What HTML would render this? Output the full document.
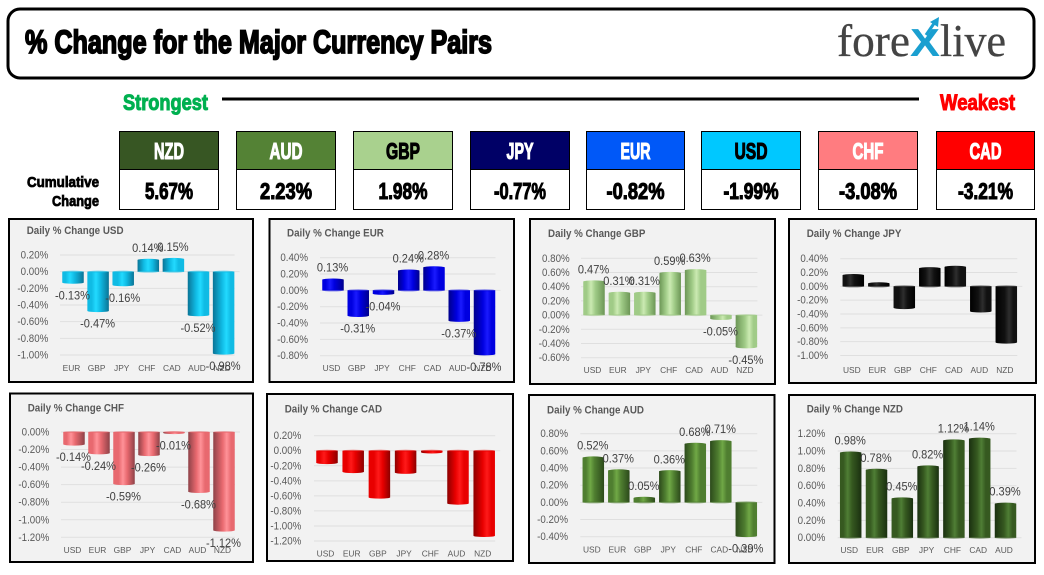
<!DOCTYPE html>
<html lang="en">
<head>
<meta charset="utf-8">
<title>% Change for the Major Currency Pairs</title>
<style>
html,body{margin:0;padding:0;background:#fff;width:1044px;height:575px;overflow:hidden}
svg{display:block}
text{font-family:"Liberation Sans",sans-serif}
.hv{font-weight:bold;stroke-width:1.1px;paint-order:stroke;text-anchor:middle}
</style>
</head>
<body>
<svg id="dashboard" width="1044" height="575" viewBox="0 0 1044 575" xmlns="http://www.w3.org/2000/svg">
  <defs id="gradients"></defs>
  <g>
    <rect x="8" y="9" width="1026" height="69" rx="12" ry="12" fill="#fff" stroke="#000" stroke-width="3"/>
    <text x="25" y="53" font-size="32" font-weight="bold" fill="#000" stroke="#000" stroke-width="1.7" textLength="467" lengthAdjust="spacingAndGlyphs">% Change for the Major Currency Pairs</text>
    <g>
      <text x="837" y="56" font-size="46" fill="#444" stroke="#444" stroke-width=".3" style="font-family:'Liberation Serif',serif" textLength="73" lengthAdjust="spacingAndGlyphs">fore</text>
      <text x="910" y="56" font-size="39" font-weight="bold" fill="#1a9fd0" textLength="30" lengthAdjust="spacingAndGlyphs">X</text>
      <text x="940" y="56" font-size="46" fill="#444" stroke="#444" stroke-width=".3" style="font-family:'Liberation Serif',serif" textLength="66" lengthAdjust="spacingAndGlyphs">live</text>
      <line x1="926" y1="35" x2="935" y2="22" stroke="#1a9fd0" stroke-width="3"/>
      <polygon points="939,17 938,27 930,22" fill="#1a9fd0"/>
    </g>
  </g>
  <g>
    <text x="123" y="110" font-size="22" font-weight="bold" fill="#00b050" stroke="#00b050" stroke-width="1" textLength="85" lengthAdjust="spacingAndGlyphs">Strongest</text>
    <rect x="222" y="97.5" width="697" height="3" fill="#000"/>
    <text x="940" y="110" font-size="22" font-weight="bold" fill="#f00" stroke="#f00" stroke-width="1" textLength="75" lengthAdjust="spacingAndGlyphs">Weakest</text>
  </g>
  <g>
    <text x="27" y="187" font-size="15" font-weight="bold" fill="#000" stroke="#000" stroke-width=".8" textLength="72" lengthAdjust="spacingAndGlyphs">Cumulative</text>
    <text x="52" y="206" font-size="15" font-weight="bold" fill="#000" stroke="#000" stroke-width=".8" textLength="47" lengthAdjust="spacingAndGlyphs">Change</text>
  </g>
  <g id="strength-table"></g>
  <g id="panels"></g>
</svg>
<script>
// Cumulative strength table
const tableCurrencies = ['NZD', 'AUD', 'GBP', 'JPY', 'EUR', 'USD', 'CHF', 'CAD'];
const tableValues = ['5.67%', '2.23%', '1.98%', '-0.77%', '-0.82%', '-1.99%', '-3.08%', '-3.21%'];

// Daily % change: categories, values, axis ticks
const usdCategories = ['EUR', 'GBP', 'JPY', 'CHF', 'CAD', 'AUD', 'NZD'];
const usdValues = [-0.13, -0.47, -0.16, 0.14, 0.15, -0.52, -0.98];
const usdTicks = [0.2, 0, -0.2, -0.4, -0.6, -0.8, -1];

const eurCategories = ['USD', 'GBP', 'JPY', 'CHF', 'CAD', 'AUD', 'NZD'];
const eurValues = [0.13, -0.31, -0.04, 0.24, 0.28, -0.37, -0.78];
const eurTicks = [0.4, 0.2, 0, -0.2, -0.4, -0.6, -0.8];

const gbpCategories = ['USD', 'EUR', 'JPY', 'CHF', 'CAD', 'AUD', 'NZD'];
const gbpValues = [0.47, 0.31, 0.31, 0.59, 0.63, -0.05, -0.45];
const gbpTicks = [0.8, 0.6, 0.4, 0.2, 0, -0.2, -0.4, -0.6];

const jpyCategories = ['USD', 'EUR', 'GBP', 'CHF', 'CAD', 'AUD', 'NZD'];
const jpyValues = [0.16, 0.04, -0.31, 0.26, 0.28, -0.36, -0.81];
const jpyTicks = [0.4, 0.2, 0, -0.2, -0.4, -0.6, -0.8, -1];

const chfCategories = ['USD', 'EUR', 'GBP', 'JPY', 'CAD', 'AUD', 'NZD'];
const chfValues = [-0.14, -0.24, -0.59, -0.26, -0.01, -0.68, -1.12];
const chfTicks = [0, -0.2, -0.4, -0.6, -0.8, -1, -1.2];

const cadCategories = ['USD', 'EUR', 'GBP', 'JPY', 'CHF', 'AUD', 'NZD'];
const cadValues = [-0.16, -0.28, -0.62, -0.29, -0.02, -0.7, -1.13];
const cadTicks = [0.2, 0, -0.2, -0.4, -0.6, -0.8, -1, -1.2];

const audCategories = ['USD', 'EUR', 'GBP', 'JPY', 'CHF', 'CAD', 'NZD'];
const audValues = [0.52, 0.37, 0.05, 0.36, 0.68, 0.71, -0.39];
const audTicks = [0.8, 0.6, 0.4, 0.2, 0, -0.2, -0.4];

const nzdCategories = ['USD', 'EUR', 'GBP', 'JPY', 'CHF', 'CAD', 'AUD'];
const nzdValues = [0.98, 0.78, 0.45, 0.82, 1.12, 1.14, 0.39];
const nzdTicks = [1.2, 1, 0.8, 0.6, 0.4, 0.2, 0];

const NS = 'http://www.w3.org/2000/svg';
function mk(parent, tag, attrs, txt) {
  const el = document.createElementNS(NS, tag);
  for (const k in attrs) el.setAttribute(k, attrs[k]);
  if (txt !== undefined) el.textContent = txt;
  parent.appendChild(el);
  return el;
}
// Taller, narrower glyphs: squeeze horizontally by a ratio of the natural width.
function squeeze(t, ratio) {
  t.setAttribute('textLength', (t.getComputedTextLength() * ratio).toFixed(2));
  t.setAttribute('lengthAdjust', 'spacingAndGlyphs');
}

function drawTable() {
  const root = document.getElementById('strength-table');
  const lefts = [119.5, 236.5, 353.5, 470.5, 586.5, 701.5, 818.5, 936.5];
  const rights = [218.5, 335.5, 452.5, 569.5, 684.5, 800.5, 917.5, 1034.5];
  const fills = ['#375623', '#548235', '#a9d18e', '#000066', '#0058f8', '#00c8ff', '#ff7c80', '#ff0000'];
  const inks = ['#fff', '#fff', '#000', '#fff', '#fff', '#000', '#fff', '#fff'];
  const nameW = [30, 33, 34, 27, 30, 33, 31, 32];
  const valW = [48, 52, 49, 52, 58, 55, 58, 55];
  tableCurrencies.forEach((c, i) => {
    const g = mk(root, 'g', {});
    
    
    const x = lefts[i], w = rights[i] - lefts[i], cx = x + w / 2;
    mk(g, 'rect', {x: x, y: 131.5, width: w, height: 78, fill: '#fff', stroke: '#000', 'stroke-width': 1});
    mk(g, 'rect', {x: x, y: 131.5, width: w, height: 38, fill: fills[i], stroke: '#000', 'stroke-width': 1});
    mk(g, 'text', {x: cx, y: 159, 'font-size': 23, fill: inks[i], stroke: inks[i], class: 'hv', textLength: nameW[i], lengthAdjust: 'spacingAndGlyphs'}, c);
    mk(g, 'text', {x: cx, y: 199, 'font-size': 23, fill: '#000', stroke: '#000', class: 'hv', textLength: valW[i], lengthAdjust: 'spacingAndGlyphs'}, tableValues[i]);
  });
}

function drawPanel(key, cats, vals, ticks, look, box) {
  const root = document.getElementById('panels');
  const defs = document.getElementById('gradients');

  const g = mk(root, 'g', {});
  
  

  const frame = mk(g, 'rect', {x: box.fx0 + 1, y: box.fy0 + 1, width: box.fx1 - box.fx0 - 2, height: box.fy1 - box.fy0 - 2, fill: '#f2f2f2', stroke: '#000', 'stroke-width': 2});
  
  

  const title = mk(g, 'text', {x: box.tx, y: box.ty + 4, 'font-size': 11, 'font-weight': 'bold', fill: '#595959'}, 'Daily % Change ' + key.toUpperCase());
  
  
  squeeze(title, 0.89);

  const tMax = Math.max.apply(null, ticks), tMin = Math.min.apply(null, ticks);
  const yPos = v => box.top + (tMax - v) / (tMax - tMin) * (box.bot - box.top);
  const xPos = i => box.x0 + i * box.step;
  const xL = xPos(0) - 13, xR = xPos(cats.length - 1) + 11;

  ticks.forEach(t => {
    const y = yPos(t);
    const line = mk(g, 'line', {x1: xL, x2: t === 0 ? xR + 5 : xR, y1: y, y2: y, stroke: '#dfdfdf', 'stroke-width': 1});
    
    
    const label = mk(g, 'text', {x: box.tr, y: y + 3.5, 'font-size': 10.6, fill: '#595959', 'text-anchor': 'end'}, t.toFixed(2) + '%');
    
    
    squeeze(label, 0.92);
  });

  const bw = 21.5;
  vals.forEach((v, i) => {
    const cx = xPos(i), y0 = yPos(0), y1 = yPos(v);
    const id = 'grad-' + key + '-' + i;
    const hi = 0.36 + i * 0.045;
    const grad = mk(defs, 'linearGradient', {id: id, x1: 0, x2: 1, y1: 0, y2: 0});
    mk(grad, 'stop', {offset: '0', 'stop-color': i > 2 ? look.dark : look.mid});
    mk(grad, 'stop', {offset: (hi - 0.2).toFixed(2), 'stop-color': look.mid});
    mk(grad, 'stop', {offset: hi.toFixed(2), 'stop-color': look.light});
    mk(grad, 'stop', {offset: (hi + 0.2).toFixed(2), 'stop-color': look.mid});
    mk(grad, 'stop', {offset: '1', 'stop-color': i < 4 ? look.dark : look.mid});

    const bar = mk(g, 'rect', {x: cx - bw / 2, y: Math.min(y0, y1), width: bw, height: Math.abs(y1 - y0), fill: 'url(#' + id + ')'});
    
    
    const cap = mk(g, 'ellipse', {cx: cx, cy: y1, rx: bw / 2, ry: 1.3, fill: 'url(#' + id + ')'});
    
    
    const base = mk(g, 'ellipse', {cx: cx, cy: y0, rx: bw / 2, ry: 1, fill: look.mid, opacity: .55});
    
    
  });

  cats.forEach((c, i) => {
    const t = mk(g, 'text', {x: xPos(i) - 1.5, y: box.cy + 3, 'font-size': 8.4, fill: '#595959', 'text-anchor': 'middle'}, c);
    
    
  });

  if (look.labels) {
    vals.forEach((v, i) => {
      const yc = yPos(v) + (v >= 0 ? -12.5 : 12.5);
      const t = mk(g, 'text', {x: xPos(i) - .5, y: yc + 4.3, 'font-size': 12, fill: '#404040', 'text-anchor': 'middle'}, v.toFixed(2) + '%');
      
      
      squeeze(t, 0.92);
    });
  }
}

drawTable();
drawPanel('usd', usdCategories, usdValues, usdTicks,
  {dark: '#0a7496', mid: '#10bbe4', light: '#22daff', labels: true},
  {fx0: 8, fx1: 254, fy0: 218, fy1: 383, x0: 73, step: 25.1, top: 255, bot: 355, tx: 26.7, ty: 230, cy: 368, tr: 48.3});
drawPanel('eur', eurCategories, eurValues, eurTicks,
  {dark: '#00008c', mid: '#0000e0', light: '#1a1aff', labels: true},
  {fx0: 268.5, fx1: 515, fy0: 218, fy1: 383, x0: 333, step: 25.25, top: 257.7, bot: 355.7, tx: 287, ty: 232.3, cy: 368, tr: 308});
drawPanel('gbp', gbpCategories, gbpValues, gbpTicks,
  {dark: '#6c9656', mid: '#a0cb87', light: '#cbeab2', labels: true},
  {fx0: 529, fx1: 776, fy0: 218, fy1: 385, x0: 594, step: 25.4, top: 258.3, bot: 357.7, tx: 548, ty: 233, cy: 370, tr: 569.7});
drawPanel('jpy', jpyCategories, jpyValues, jpyTicks,
  {dark: '#000000', mid: '#111111', light: '#2e2e2e', labels: false},
  {fx0: 788, fx1: 1037, fy0: 218, fy1: 384, x0: 853.3, step: 25.5, top: 258.7, bot: 355.5, tx: 806.7, ty: 233, cy: 370, tr: 828});
drawPanel('chf', chfCategories, chfValues, chfTicks,
  {dark: '#8e4248', mid: '#e8696f', light: '#ff9298', labels: true},
  {fx0: 9, fx1: 254, fy0: 392.5, fy1: 563, x0: 74, step: 25, top: 432, bot: 537.3, tx: 27.7, ty: 407.3, cy: 550, tr: 49.3});
drawPanel('cad', cadCategories, cadValues, cadTicks,
  {dark: '#8c0000', mid: '#e80000', light: '#ff1a1a', labels: false},
  {fx0: 266, fx1: 514, fy0: 393, fy1: 562, x0: 327, step: 26.2, top: 435.7, bot: 541, tx: 284.7, ty: 408.3, cy: 553.3, tr: 301.3});
drawPanel('aud', audCategories, audValues, audTicks,
  {dark: '#2c4a1b', mid: '#4f7e30', light: '#70a846', labels: true},
  {fx0: 528, fx1: 775.5, fy0: 394, fy1: 564, x0: 593.3, step: 25.5, top: 433.7, bot: 536.7, tx: 547, ty: 409.3, cy: 549.3, tr: 568});
drawPanel('nzd', nzdCategories, nzdValues, nzdTicks,
  {dark: '#1a3010', mid: '#365920', light: '#4f7e35', labels: true},
  {fx0: 788, fx1: 1036, fy0: 394, fy1: 564, x0: 850.7, step: 25.8, top: 433.7, bot: 537.7, tx: 806.7, ty: 408.3, cy: 550, tr: 825.3});
</script>
</body>
</html>
